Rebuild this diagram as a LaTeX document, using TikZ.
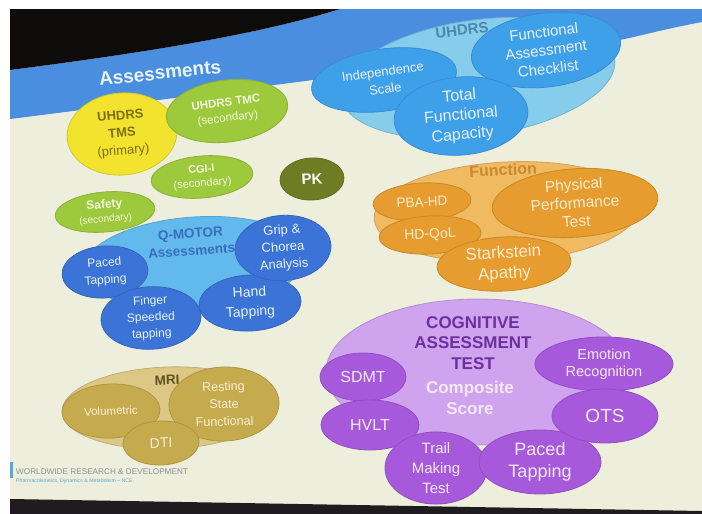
\documentclass[tikz,border=0pt]{standalone}
\usepackage{fontspec}
\setmainfont{Liberation Sans}
\usetikzlibrary{shapes.geometric}
\newcommand{\fsz}[2]{\fontsize{#1}{#2}\selectfont}
\definecolor{cream}{HTML}{EDEFDC}
\definecolor{banner}{HTML}{4A8FDF}
\definecolor{topdark}{HTML}{0E0B0B}
\definecolor{botdark}{HTML}{1E1C1E}
\definecolor{yel}{HTML}{F2E32E}
\definecolor{yeltext}{HTML}{7E6E12}
\definecolor{grn}{HTML}{9DC93C}
\definecolor{grntext}{HTML}{F1F7DE}
\definecolor{pkc}{HTML}{6E7D23}
\definecolor{qbgc}{HTML}{62BAEC}
\definecolor{qblue}{HTML}{3C73D6}
\definecolor{qlabc}{HTML}{3A6CC0}
\definecolor{ubgc}{HTML}{86CDEB}
\definecolor{ublue}{HTML}{3FA0EA}
\definecolor{ulabc}{HTML}{4D86B0}
\definecolor{bluetext}{HTML}{E8F3FC}
\definecolor{fbgc}{HTML}{F0BA60}
\definecolor{forange}{HTML}{E69C2F}
\definecolor{flabc}{HTML}{C98A2E}
\definecolor{ortext}{HTML}{FCEDCF}
\definecolor{cbgc}{HTML}{CFA3EE}
\definecolor{cpurp}{HTML}{A65ADB}
\definecolor{clabc}{HTML}{6E2F9E}
\definecolor{purtext}{HTML}{F5E8FB}
\definecolor{mbgc}{HTML}{DCC785}
\definecolor{mtan}{HTML}{C6AA4E}
\definecolor{mlabc}{HTML}{5F5222}
\definecolor{tantext}{HTML}{F7F0D6}
\definecolor{foottext}{HTML}{8A8F96}
\definecolor{footblue}{HTML}{5AA8D8}
\begin{document}
\begin{tikzpicture}[x=1pt,y=-1pt,
  blob/.style={ellipse, inner sep=0pt, align=center, fill=#1, draw=#1!88!black, line width=0.8pt},
  glabel/.style={align=center, inner sep=0pt}]
\useasboundingbox (0,0) rectangle (702,514);
% photo background
\fill[white] (0,0) rectangle (702,514);
\fill[cream] (10,9) rectangle (702,514);
\fill[banner] (10,70) .. controls (150,52) and (260,34) .. (340,9) -- (702,9) -- (702,22)
  .. controls (660,30) and (640,36) .. (620,40)
  .. controls (450,62) and (200,95) .. (10,119) -- cycle;
\fill[topdark] (10,9) -- (340,9) .. controls (260,34) and (150,52) .. (10,70) -- cycle;
\fill[botdark] (10,499) -- (702,511) -- (702,514) -- (10,514) -- cycle;

% title
\node[glabel, rotate=6, text=bluetext, font=\fsz{19}{22}\bfseries] (title) at (160,73) {Assessments};

% top-left assessments
\node[blob=yel, minimum width=110pt, minimum height=82pt, rotate=5, text=yeltext, font=\fsz{13}{17.5}] (tms) at (122,134) {\textbf{UHDRS}\\\textbf{TMS}\\(primary)};
\node[blob=grn, minimum width=122pt, minimum height=62pt, rotate=7, text=grntext, font=\fsz{11.5}{15.5}] (tmc) at (227,111) {\textbf{UHDRS TMC}\\(secondary)};
\node[blob=grn, minimum width=102pt, minimum height=42pt, rotate=5, text=grntext, font=\fsz{11}{14}] (cgi) at (202,177) {\textbf{CGI-I}\\(secondary)};
\node[blob=pkc, minimum width=64pt, minimum height=42pt, rotate=3, text=white, font=\fsz{15}{18}\bfseries] (pk) at (312,179) {PK};
\node[blob=grn, minimum width=100pt, minimum height=40pt, rotate=5, text=grntext, font=\fsz{12}{14}] (safety) at (105,212) {\textbf{Safety}\\{\fsz{10}{12}(secondary)}};

% UHDRS group
\node[blob=ubgc, minimum width=276pt, minimum height=116pt, rotate=8] (ubg) at (478,78) {};
\node[glabel, rotate=7, text=ulabc, font=\fsz{15}{18}\bfseries] (ulab) at (462,30) {UHDRS};
\node[blob=ublue, minimum width=146pt, minimum height=62pt, rotate=8, text=bluetext, font=\fsz{13}{17.5}] (indep) at (384,80) {Independence\\Scale};
\node[blob=ublue, minimum width=150pt, minimum height=74pt, rotate=7, text=bluetext, font=\fsz{15}{18.5}] (fac) at (546,50) {Functional\\Assessment\\Checklist};
\node[blob=ublue, minimum width=134pt, minimum height=78pt, rotate=5, text=bluetext, font=\fsz{16}{19.5}] (tfc) at (461,116) {Total\\Functional\\Capacity};

% Q-MOTOR group
\node[blob=qbgc, minimum width=224pt, minimum height=92pt, rotate=4] (qbg) at (195,263) {};
\node[glabel, rotate=4, text=qlabc, font=\fsz{13.5}{17.5}\bfseries] (qlab) at (191,242) {Q-MOTOR\\Assessments};
\node[blob=qblue, minimum width=86pt, minimum height=52pt, rotate=4, text=bluetext, font=\fsz{12}{17}] (paceda) at (105,272) {Paced\\Tapping};
\node[blob=qblue, minimum width=100pt, minimum height=62pt, rotate=3, text=bluetext, font=\fsz{12}{16.5}] (finger) at (151,318) {Finger\\Speeded\\tapping};
\node[blob=qblue, minimum width=102pt, minimum height=56pt, rotate=3, text=bluetext, font=\fsz{14}{19.5}] (hand) at (250,303) {Hand\\Tapping};
\node[blob=qblue, minimum width=96pt, minimum height=62pt, rotate=4, text=bluetext, font=\fsz{13}{17}] (grip) at (283,248) {Grip \&\\Chorea\\Analysis};

% Function group
\node[blob=fbgc, minimum width=266pt, minimum height=100pt, rotate=3] (fbg) at (507,212) {};
\node[glabel, rotate=3, text=flabc, font=\fsz{16}{19}\bfseries] (flab) at (503,170) {Function};
\node[blob=forange, minimum width=98pt, minimum height=38pt, rotate=3, text=ortext, font=\fsz{13.5}{16}] (pba) at (422,202) {PBA-HD};
\node[blob=forange, minimum width=102pt, minimum height=38pt, rotate=3, text=ortext, font=\fsz{14}{16}] (hdqol) at (430,235) {HD-QoL};
\node[blob=forange, minimum width=166pt, minimum height=58pt, rotate=4, text=ortext, font=\fsz{15.5}{18.5}] (phys) at (575,203) {Physical\\Performance\\Test};
\node[blob=forange, minimum width=134pt, minimum height=54pt, rotate=3, text=ortext, font=\fsz{17}{20.5}] (stark) at (504,264) {Starkstein\\Apathy};

% Cognitive group
\node[blob=cbgc, minimum width=304pt, minimum height=146pt] (cbg) at (478,372) {};
\node[glabel, text=clabc, font=\fsz{17}{20.5}\bfseries] (clab) at (473,343) {COGNITIVE\\ASSESSMENT\\TEST};
\node[glabel, text=purtext, font=\fsz{17}{21.5}\bfseries] (comp) at (470,398) {Composite\\Score};
\node[blob=cpurp, minimum width=86pt, minimum height=48pt, text=purtext, font=\fsz{16}{19}] (sdmt) at (363,377) {SDMT};
\node[blob=cpurp, minimum width=98pt, minimum height=50pt, text=purtext, font=\fsz{16}{19}] (hvlt) at (370,425) {HVLT};
\node[blob=cpurp, minimum width=102pt, minimum height=64pt, text=purtext, font=\fsz{15}{20}] (trail) at (436,468) {Trail\\Making\\Test};
\node[blob=cpurp, minimum width=122pt, minimum height=64pt, text=purtext, font=\fsz{18}{22}] (pacedb) at (540,462) {Paced\\Tapping};
\node[blob=cpurp, minimum width=138pt, minimum height=54pt, text=purtext, font=\fsz{14.5}{17}] (emo) at (604,364) {Emotion\\Recognition};
\node[blob=cpurp, minimum width=106pt, minimum height=54pt, text=purtext, font=\fsz{19}{22}] (ots) at (605,416) {OTS};

% MRI group
\node[blob=mbgc, minimum width=212pt, minimum height=82pt, rotate=2] (mbg) at (168,408) {};
\node[glabel, rotate=2, text=mlabc, font=\fsz{13.5}{16}\bfseries] (mlab) at (167,380) {MRI};
\node[blob=mtan, minimum width=98pt, minimum height=54pt, rotate=2, text=tantext, font=\fsz{11.5}{14}] (vol) at (111,411) {Volumetric};
\node[blob=mtan, minimum width=110pt, minimum height=74pt, rotate=2, text=tantext, font=\fsz{12.5}{17.5}] (rest) at (224,404) {Resting\\State\\Functional};
\node[blob=mtan, minimum width=76pt, minimum height=44pt, rotate=2, text=tantext, font=\fsz{14}{17}] (dti) at (161,443) {DTI};

% footer
\fill[footblue] (10,462) rectangle (12.5,478);
\node[glabel, anchor=west, text=foottext, font=\fsz{8.2}{10}] (foot1) at (16,472) {WORLDWIDE RESEARCH \& DEVELOPMENT};
\node[glabel, anchor=west, text=footblue, font=\fsz{5.2}{6}] (foot2) at (16,481) {Pharmacokinetics, Dynamics \& Metabolism -- NCE};
\end{tikzpicture}
\end{document}
